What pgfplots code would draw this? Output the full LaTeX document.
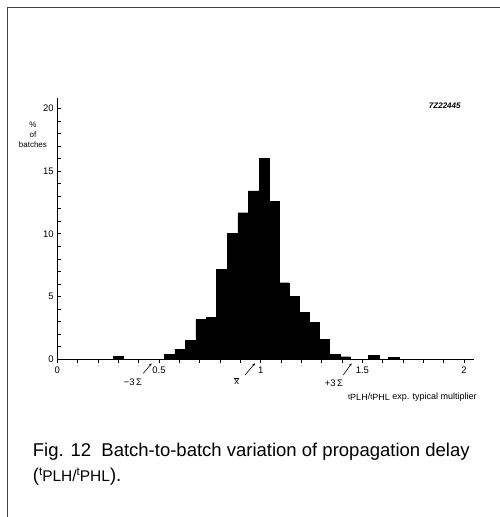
\documentclass[border=0pt]{standalone}
\usepackage{pgfplots}
\pgfplotsset{compat=1.18}
\usepackage{fontspec}
\setmainfont{Liberation Sans}
\usetikzlibrary{arrows.meta}
\begin{document}
\begin{tikzpicture}[x=1pt,y=1pt]
\useasboundingbox (0,0) rectangle (500,517);
\draw[line width=0.8pt, black!75] (7,0) -- (7,510) -- (500,510);
\begin{axis}[
  at={(57.3pt,157.7pt)}, anchor=origin,
  x=203.4pt, y=12.55pt,
  xmin=0, xmax=2.05, ymin=0, ymax=20.8,
  axis lines=left,
  axis line style={-, line width=0.7pt},
  clip=false,
  xtick={0,0.5,1,1.5,2},
  xticklabels={0,0.5,1,1.5,2},
  minor xtick={0.1,0.2,0.3,0.4,0.6,0.7,0.8,0.9,1.1,1.2,1.3,1.4,1.6,1.7,1.8,1.9},
  ytick={0,5,10,15,20},
  minor ytick={1,2,3,4,6,7,8,9,11,12,13,14,16,17,18,19},
  xtick align=outside,
  ytick align=inside,
  major tick length=4pt, minor tick length=4pt,
  every tick/.style={line width=0.6pt, black},
  tick label style={font=\fontsize{9.5}{9.5}\selectfont},
  /pgf/number format/assume math mode=true,
]
\addplot[ybar interval, fill=black, draw=black, line width=0.3pt] coordinates {(0.276,0.25) (0.325,0.25)};
\addplot[ybar interval, fill=black, draw=black, line width=0.3pt] coordinates {
(0.525,0.40) (0.578,0.82) (0.631,1.51) (0.681,3.19) (0.731,3.35) (0.781,7.17)
(0.836,10.04) (0.888,11.68) (0.939,13.43) (0.992,16.0) (1.042,12.6) (1.090,6.1)
(1.139,5.04) (1.190,3.72) (1.239,2.95) (1.288,1.59) (1.337,0.42) (1.390,0.21) (1.440,0.21)};
\addplot[ybar interval, fill=black, draw=black, line width=0.3pt] coordinates {(1.527,0.35) (1.581,0.35)};
\addplot[ybar interval, fill=black, draw=black, line width=0.3pt] coordinates {(1.625,0.2) (1.679,0.2)};
% annotations
\draw[-{Stealth[length=3pt,width=2.5pt]}, line width=0.6pt] (axis cs:0.423,-1.12) -- (axis cs:0.464,-0.32);
\draw[-{Stealth[length=3pt,width=2.5pt]}, line width=0.6pt] (axis cs:0.923,-1.25) -- (axis cs:0.972,-0.32);
\draw[-{Stealth[length=3pt,width=2.5pt]}, line width=0.6pt] (axis cs:1.406,-1.25) -- (axis cs:1.447,-0.32);
\node[font=\fontsize{9.5}{9.5}\selectfont] at (axis cs:0.372,-1.8) {−3\,Σ};
\node[font=\fontsize{9.5}{9.5}\selectfont] at (axis cs:0.882,-1.73) {$\overline{\mbox{x}}$};
\node[font=\fontsize{9.5}{9.5}\selectfont] at (axis cs:1.36,-1.89) {+3\,Σ};
\node[align=center, font=\fontsize{8}{10}\selectfont] at (axis cs:-0.12,17.9) {\%\\of\\batches};
\node[font=\bfseries\itshape\fontsize{8}{8}\selectfont] at (axis cs:1.905,20.2) {7Z22445};
\node[anchor=west, inner sep=0pt, font=\fontsize{9}{9}\selectfont] at (axis cs:1.429,-3.0) {{\fontsize{7.5}{7.5}\selectfont t}\raisebox{-0.3ex}{PLH}/{\fontsize{7.5}{7.5}\selectfont t}\raisebox{-0.3ex}{PHL} exp. typical multiplier};
\end{axis}
\node[anchor=base west, inner sep=0pt, font=\fontsize{18.5}{22}\selectfont] at (32.7,60) {Fig. 12\ \ Batch-to-batch variation of propagation delay};
\node[anchor=base west, inner sep=0pt, font=\fontsize{18.5}{22}\selectfont] at (32.7,35) {(\raisebox{6pt}{\fontsize{11.5}{12}\selectfont t}{\fontsize{15.5}{16}\selectfont PLH/}\raisebox{6pt}{\fontsize{11.5}{12}\selectfont t}{\fontsize{15.5}{16}\selectfont PHL}).};
\end{tikzpicture}
\end{document}
